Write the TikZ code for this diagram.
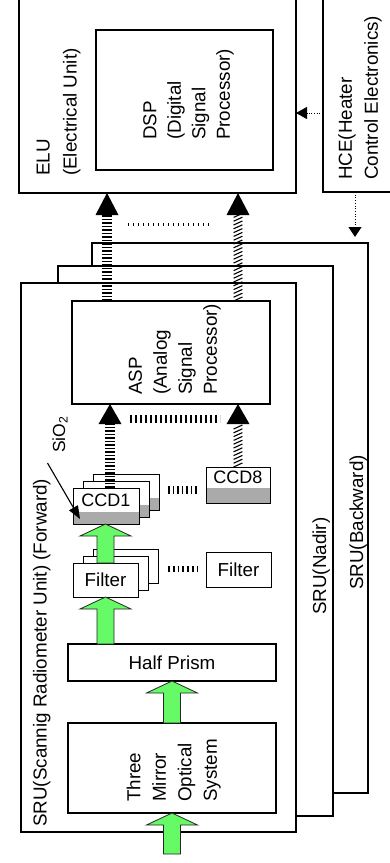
\documentclass[tikz,border=0pt]{standalone}
\usepackage{fontspec}
\setmainfont{Liberation Sans}
\usetikzlibrary{arrows.meta,calc,decorations.markings}
\definecolor{arrgreen}{RGB}{102,250,102}
\definecolor{bandgray}{RGB}{170,170,170}
\tikzset{
  box/.style={draw=black, line width=1.1pt, fill=white, inner sep=0pt, outer sep=0pt},
  card/.style={box, line width=1pt, minimum width=66pt, minimum height=36pt},
  band/.style={path picture={\fill[bandgray] (path picture bounding box.south west) rectangle ([yshift=#1]path picture bounding box.south east);}},
  band/.default=12pt,
  rlabel/.style={inner sep=0pt, align=left, rotate=90, anchor=west},
  slabel/.style={inner sep=0pt, rotate=90, anchor=base west, font=\fontsize{18.8}{22}\selectfont},
  ccdtxt/.style={inner sep=0pt, font=\fontsize{18}{20}\selectfont},
  thindot/.style={line width=0.9pt, dash pattern=on 0.9pt off 1.8pt},
  garrow/.style={draw=black!85, line width=0.8pt, fill=arrgreen, line join=miter},
  hatchH/.style={postaction={decorate}, decoration={markings,
     mark=between positions 0.8pt and -#1 step 3.5pt with {\draw[line width=1.5pt] (0pt,4.8pt) -- (0pt,-4.8pt);},
     mark=at position 1 with {\fill (0pt,0pt) -- (-#1,11.5pt) -- (-#1,-11.5pt) -- cycle;}}},
  hatchS/.style={postaction={decorate}, decoration={markings,
     mark=between positions 2pt and -#1 step 3.8pt with {\draw[line width=1.1pt] (-2pt,4.4pt) -- (2pt,-4.4pt);},
     mark=at position 1 with {\fill (0pt,0pt) -- (-#1,11.5pt) -- (-#1,-11.5pt) -- cycle;}}}
}
\newcommand\garr[2]{\path[garrow] let \p1=#1, \p2=#2 in (\x2,\y2) -- (\x2+25.5pt,\y2-12pt) -- (\x2+8.5pt,\y2-12pt) -- (\x2+8.5pt,\y1) -- (\x2-8.5pt,\y1) -- (\x2-8.5pt,\y2-12pt) -- (\x2-25.5pt,\y2-12pt) -- cycle;}
\begin{document}
\begin{tikzpicture}[x=1pt,y=-1pt]
\fill[white] (0,0) rectangle (390,863);
\useasboundingbox (0,0) rectangle (390,863);

% SRU frames (back to front)
\node[box, minimum width=276pt, minimum height=550pt] (bwd) at (230,518) {};
\node[box, minimum width=275pt, minimum height=550pt] (ndr) at (195.5,541) {};
\node[box, minimum width=275pt, minimum height=549pt] (fwd) at (158.5,557.5) {};

% ELU, DSP, HCE
\node[box, minimum width=277pt, minimum height=198pt] (elu) at (157.5,94) {};
\node[box, minimum width=177pt, minimum height=140pt] (dsp) at (184.5,100) {};
\node[box, minimum width=77pt, minimum height=197pt] (hce) at (361.5,93.5) {};

% inner components
\node[box, minimum width=198pt, minimum height=103pt] (asp) at (171,352.5) {};
\node[card, band] (ccdC) at (126,492) {};
\node[card, band] (ccdB) at (116,499) {};
\node[card, band] (ccdA) at (106,506) {};
\node[card, band=15pt, minimum width=64pt] (ccd8) at (238,485) {};
\node[card, minimum width=65pt, minimum height=34pt] (filC) at (125.5,566) {};
\node[card, minimum width=65pt, minimum height=34pt] (filB) at (115.5,573) {};
\node[card, minimum width=65pt, minimum height=34pt, font=\fontsize{18.8}{22}\selectfont] (filA) at (105.5,580) {Filter};
\node[card, minimum width=65pt, minimum height=35pt, font=\fontsize{18.8}{22}\selectfont] (fil8) at (238.5,569.5) {Filter};
\node[box, minimum width=208pt, minimum height=37pt, font=\fontsize{18.8}{22}\selectfont] (hp) at (172,662.5) {Half Prism};
\node[box, minimum width=208pt, minimum height=90pt] (tmo) at (172,768) {};

% texts
\node[rlabel, font=\fontsize{18.8}{27}\selectfont] (elut) at (58.7,176) {ELU\\(Electrical Unit)};
\node[rlabel, font=\fontsize{18.8}{24.5}\selectfont] (dspt) at (188.5,140) {DSP\\(Digital\\Signal\\Processor)};
\node[rlabel, font=\fontsize{18.8}{26}\selectfont] (hcet) at (360,180) {HCE(Heater\\Control Electronics)};
\node[rlabel, font=\fontsize{18.8}{25}\selectfont] (aspt) at (174.7,395) {ASP\\(Analog\\Signal\\Processor)};
\node[rlabel, font=\fontsize{18.8}{25.5}\selectfont] (tmot) at (173.7,802) {Three\\Mirror\\Optical\\System};
\node[slabel] (fwdt) at (46.7,827) {SRU(Scannig Radiometer Unit) (Forward)};
\node[slabel] (ndrt) at (326,615) {SRU(Nadir)};
\node[slabel] (bwdt) at (363,590) {SRU(Backward)};
\node[inner sep=0pt, rotate=90, anchor=base west, font=\fontsize{17.5}{20}\selectfont] (sio) at (65,453) {SiO\textsubscript{2}};
\node[ccdtxt] (ccdAt) at (106,500) {CCD1};
\node[ccdtxt] (ccd8t) at (238,477.5) {CCD8};

% ellipsis marks
\draw[line width=3pt, dash pattern=on 1.2pt off 3.8pt] (128,224) -- (212,224);
\draw[line width=8pt, dash pattern=on 2pt off 3pt] (130,419) -- (220,419);
\draw[line width=8pt, dash pattern=on 1.8pt off 2.7pt] (168,490) -- (199,490);
\draw[line width=6pt, dash pattern=on 1.8pt off 3pt] (168,569) -- (198,569);

% hatched signal arrows
\coordinate (xl) at (107,0);
\coordinate (xr) at (238,0);
\coordinate (xc) at (110,0);
\path[hatchH=22pt] (xl |- asp.north) -- (xl |- elu.south);
\path[hatchS=22pt] (xr |- asp.north) -- (xr |- elu.south);
\path[hatchH=20pt] (xc |- ccdA.north) -- (xc |- asp.south);
\path[hatchS=20pt] (ccd8.north) -- (ccd8.north |- asp.south);

% HCE dotted arrows
\coordinate (hy) at (0,113);
\coordinate (hx) at (355,0);
\draw[thindot, -{Triangle[width=12pt,length=11pt]}] (hy -| hce.west) -- (hy -| elu.east);
\draw[thindot, -{Triangle[width=13pt,length=10pt]}, shorten >=6pt] (hx |- hce.south) -- (hx |- bwd.north);

% SiO2 pointer
\coordinate (siotail) at (47.5,463);
\coordinate (siotip) at (80,519);
\draw[line width=1.1pt, -{Triangle[width=10pt,length=13pt]}] (siotail) -- (siotip);

% green light arrows
\coordinate (input) at (172,854);
\garr{(input)}{(tmo.south)}
\garr{(tmo.north)}{(hp.south)}
\garr{(hp.north -| filA.south)}{(filA.south)}
\garr{(filA.north)}{(ccdA.south -| filA.north)}
\end{tikzpicture}
\end{document}
